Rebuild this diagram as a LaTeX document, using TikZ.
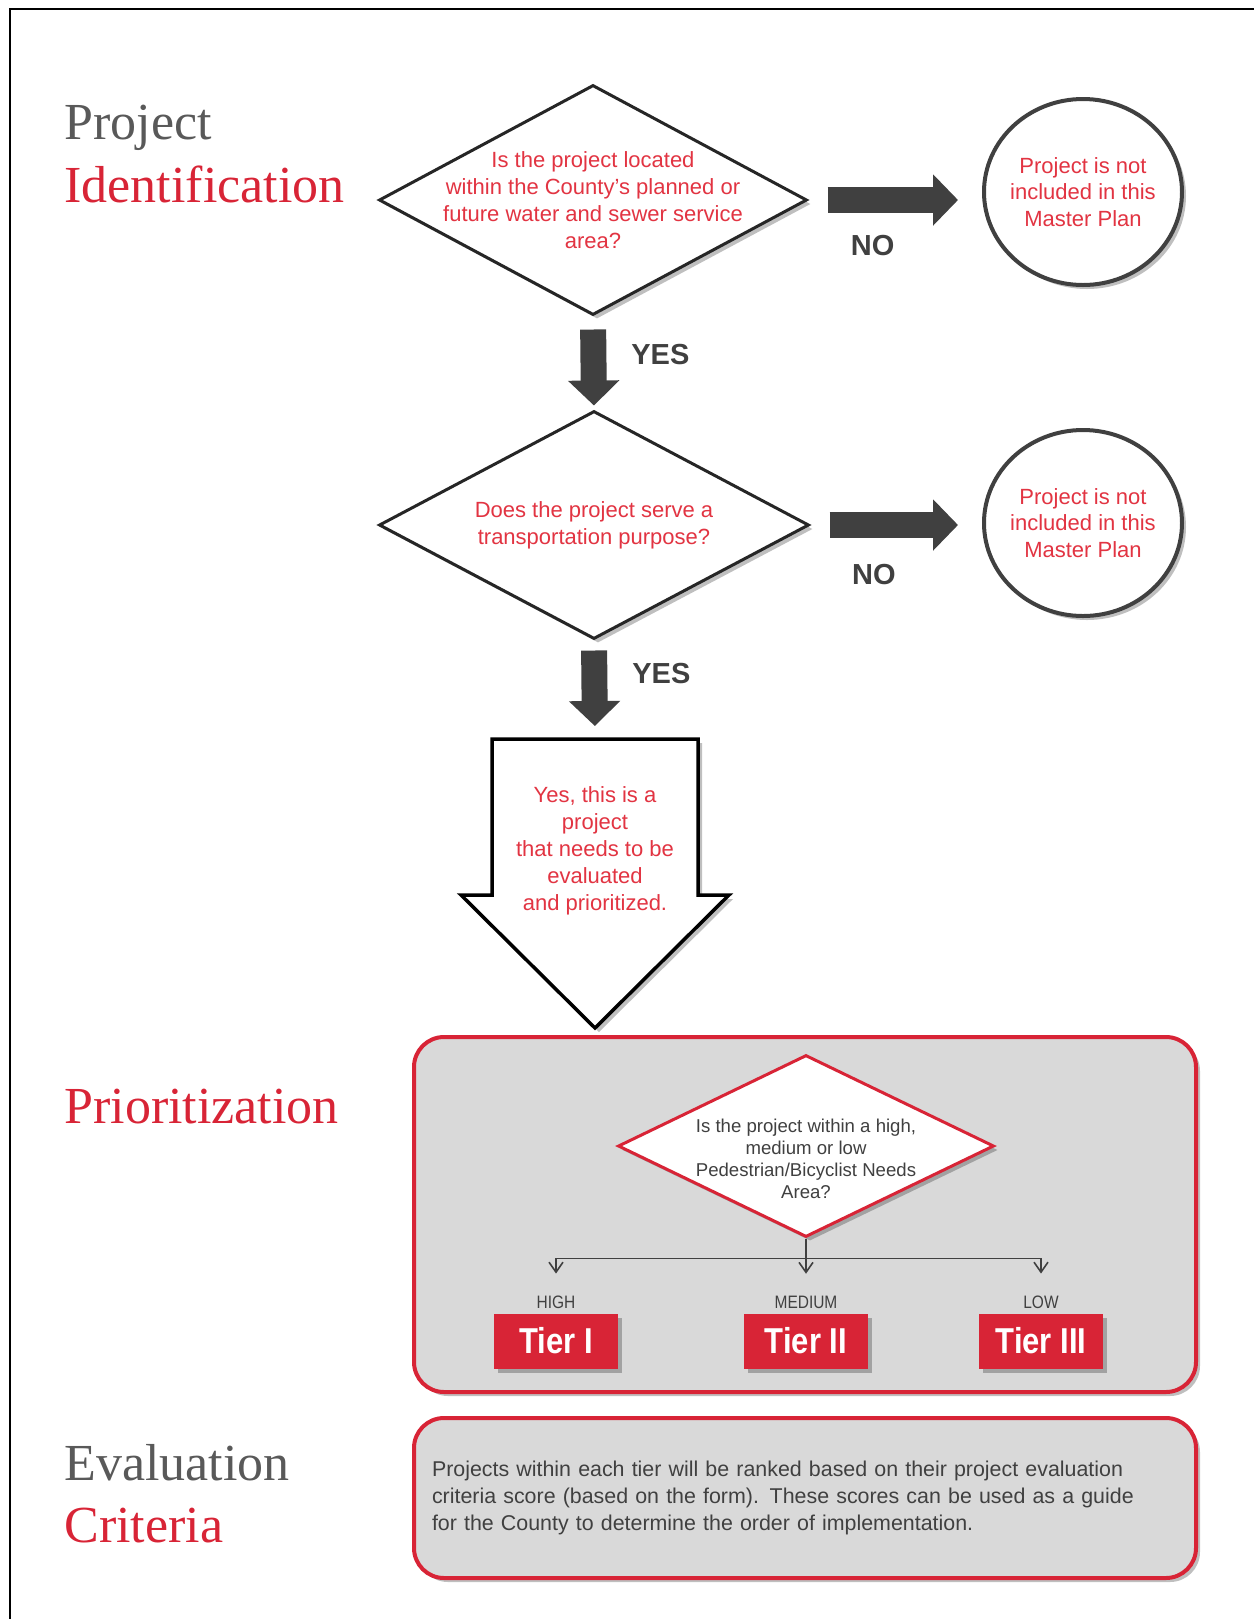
\documentclass[tikz,border=0pt]{standalone}
\usepackage{fontspec}
\setmainfont{Liberation Sans}
\newfontfamily\headfont{Liberation Serif}
\newfontfamily\narrowfont[FakeStretch=0.86]{Liberation Sans}
\usetikzlibrary{arrows.meta,calc,positioning,shapes.geometric,shadows}
\definecolor{hdgray}{RGB}{89,89,89}
\definecolor{mainred}{RGB}{216,36,54}
\definecolor{txtred}{RGB}{226,52,66}
\definecolor{arrowgray}{RGB}{64,64,64}
\definecolor{panelgray}{RGB}{217,217,217}

\begin{document}
\begin{tikzpicture}[x=0.5pt,y=-0.5pt,
    softshadow/.style={drop shadow={shadow xshift=2pt,shadow yshift=-2pt,opacity=0.25,fill=black}},
    head/.style={inner sep=0pt,anchor=base west,text=hdgray,font=\headfont\fontsize{26}{26}\selectfont},
    headred/.style={head,text=mainred},
    question/.style={diamond,draw=black!85,line width=1.5pt,fill=white,inner sep=0pt,softshadow},
    qtext/.style={align=center,text=txtred,font=\fontsize{11}{13.4}\selectfont},
    prioqtext/.style={align=center,text=arrowgray,font=\fontsize{9.3}{11}\selectfont},
    endstate/.style={ellipse,draw=arrowgray,line width=2pt,fill=white,inner sep=0pt,minimum width=99pt,minimum height=93pt,softshadow},
    blockflow/.style={draw=arrowgray,line width=13pt,-{Triangle[length=12.5pt,width=25pt]}},
    answer/.style={text=arrowgray,font=\bfseries\fontsize{14.5}{14.5}\selectfont},
    bigarrow/.style={draw=black,line width=1.75pt,fill=white,line join=miter,softshadow},
    panel/.style={draw=mainred,line width=2pt,fill=panelgray,rounded corners=15pt,minimum width=391pt,softshadow},
    tier/.style={fill=mainred,minimum width=62pt,minimum height=27.5pt,inner sep=0pt,text=white,font=\narrowfont\bfseries\fontsize{18}{18}\selectfont,softshadow},
    level/.style={inner sep=1pt,text=arrowgray,font=\narrowfont\fontsize{9}{9}\selectfont},
    branch/.style={draw=arrowgray,line width=0.8pt,-{Straight Barb[length=5pt,width=7pt]}}
  ]
    \useasboundingbox (0,0) rectangle (1254,1619);
    \draw[line width=1.25pt] (10,1619) -- (10,9) -- (1254,9);

    % section titles
    \node[head] (hdproject) at (64,139) {Project};
    \node[headred] (hdident) at (64,202) {Identification};
    \node[headred] (hdprio) at (64,1123) {Prioritization};
    \node[head] (hdeval) at (64,1480) {Evaluation};
    \node[headred] (hdcrit) at (64,1542) {Criteria};

    % identification
    \node[question,minimum width=214pt,minimum height=115pt,
      label={[qtext]center:Is the project located\\within the County's planned or\\future water and sewer service\\area?}] (d1) at (593,200) {};
    \node[endstate,label={[qtext]center:Project is not\\included in this\\Master Plan}] (c1) at (1083,192) {};
    \node[question,minimum width=215pt,minimum height=114pt,
      label={[qtext]center:Does the project serve a\\transportation purpose?}] (d2) at (594,525) {};
    \node[endstate,label={[qtext]center:Project is not\\included in this\\Master Plan}] (c2) at (1083,523) {};

    \draw[blockflow,shorten <=9.5pt,shorten >=12pt] (d1.east) -- (d1.east -| c1.west)
      node[answer,pos=0.37,yshift=-23pt] {NO};
    \draw[blockflow,shorten <=9.5pt,shorten >=12pt] (d2.east) -- (d2.east -| c2.west)
      node[answer,pos=0.37,yshift=-25pt] {NO};
    \draw[blockflow,shorten <=6.5pt,shorten >=2pt] (d1.south) -- (d2.north)
      node[answer,pos=0.41,xshift=33.5pt] {YES};

    \coordinate (bigtop) at (595,739);
    \draw[blockflow,shorten <=5pt,shorten >=6.5pt] (d2.south) -- (bigtop)
      node[answer,pos=0.33,xshift=33.5pt] {YES};
    \draw[bigarrow] ($(bigtop)+(-103,0)$) -- ($(bigtop)+(103,0)$) -- ++(0,156) -- ++(31,0)
      -- ($(bigtop)+(0,289)$) -- ($(bigtop)+(-134,156)$) -- ++(31,0) -- cycle;
    \node[qtext,font=\fontsize{11}{13.5}\selectfont] (yesbox) at ($(bigtop)+(0,112)$)
      {Yes, this is a\\project\\that needs to be\\evaluated\\and prioritized.};

    % prioritization
    \node[panel,minimum height=177.5pt] (priobox) at (805,1214.5) {};
    \node[question,draw=mainred,minimum width=188pt,minimum height=91pt,
      label={[prioqtext,yshift=-6.5pt]center:Is the project within a high,\\medium or low\\Pedestrian/Bicyclist Needs\\Area?}] (d3) at (806,1146) {};

    \node[tier] (t1) at (556,1341) {Tier I};
    \node[tier] (t2) at (806,1341) {Tier II};
    \node[tier] (t3) at (1041,1341) {Tier III};
    \node[level,above=1pt of t1] (high) {HIGH};
    \node[level,above=1pt of t2] (medium) {MEDIUM};
    \node[level,above=1pt of t3] (low) {LOW};

    \coordinate (fork) at ($(d3.south)+(0,20)$);
    \draw[branch,shorten >=10pt] (d3.south) -- (medium);
    \draw[branch,shorten >=10pt] (fork) -| (high);
    \draw[branch,shorten >=10pt] (fork) -| (low);

    % evaluation criteria
    \node[panel,minimum height=80pt,text width=373pt,inner sep=9pt,align=left,text=arrowgray,
      font=\fontsize{10.7}{13.5}\selectfont] (evalbox) at (805,1498)
      {Projects within each tier will be ranked based on their project evaluation\\
       criteria score (based on the form). These scores can be used as a guide\\
       for the County to determine the order of implementation.};
\end{tikzpicture}
\end{document}
